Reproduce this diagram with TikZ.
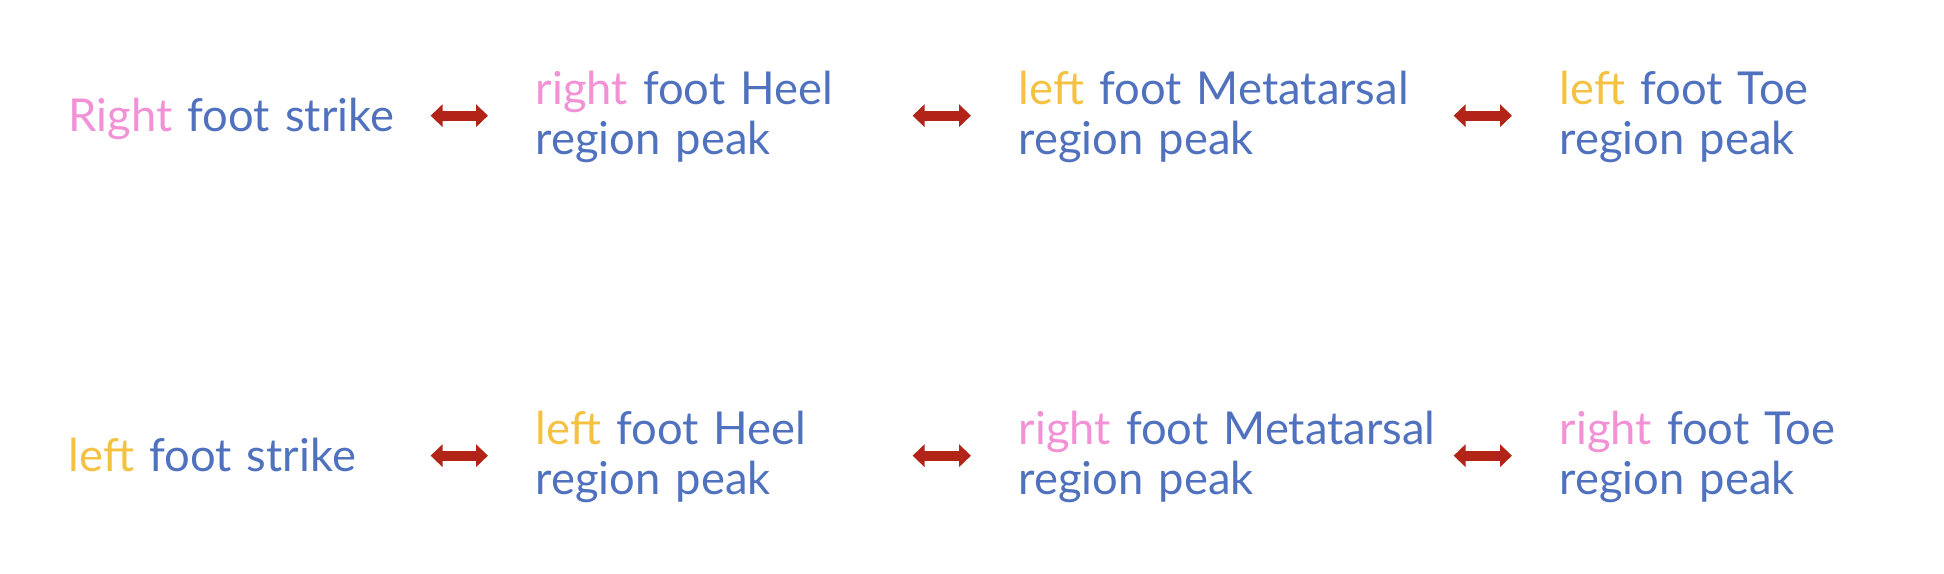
\documentclass[tikz,border=0pt]{standalone}
\usepackage{fontspec}
\setmainfont{Lato}
\usepackage{tikz}
\usetikzlibrary{arrows.meta, positioning}

\definecolor{labelblue}{HTML}{4F71BE}
\definecolor{rightpink}{HTML}{F291D6}
\definecolor{leftyellow}{HTML}{F5C143}
\definecolor{arrowred}{HTML}{B22418}

\newcommand{\rgt}[1]{{\color{rightpink}#1}}
\newcommand{\lft}[1]{{\color{leftyellow}#1}}

\begin{document}
\begin{tikzpicture}[x=0.01cm, y=-0.01cm,
    phase/.style={anchor=west, align=left, inner sep=0pt, text=labelblue,
      font=\fontsize{12.9}{14}\selectfont, text height=10pt},
    strike/.style={phase, text width=3.61cm, text depth=0.9pt},
    peak/.style={phase, text width=#1, text depth=16.1pt},
    link/.style={draw=arrowred, line width=2.85pt, shorten >=0.47cm,
      {Triangle[length=3.4pt,width=6.3pt]}-{Triangle[length=3.4pt,width=6.3pt]}}]
    \useasboundingbox (0,0) rectangle (1944,574);

    % top row: right foot strike
    \node[strike] (rs) at (68,115.7) {\rgt{Right} foot strike};
    \node[peak=3.76cm] (rh) at (535,115.7) {\rgt{right} foot Heel\\region peak};
    \node[peak=4.34cm] (lm) at (1018,115.7) {\lft{left} foot Metatarsal\\region peak};
    \node[peak=3.4cm] (lt) at (1559,115.7) {\lft{left} foot Toe\\region peak};

    % bottom row: left foot strike
    \node[strike] (ls) at (68,455.7) {\lft{left} foot strike};
    \node[peak=3.76cm] (lh) at (535,455.7) {\lft{left} foot Heel\\region peak};
    \node[peak=4.34cm] (rm) at (1018,455.7) {\rgt{right}~foot~Metatarsal\\region peak};
    \node[peak=3.4cm] (rt) at (1559,455.7) {\rgt{right} foot Toe\\region peak};

    % double arrows
    \draw[link] (rs) -- (rh);
    \draw[link] (rh) -- (lm);
    \draw[link] (lm) -- (lt);
    \draw[link] (ls) -- (lh);
    \draw[link] (lh) -- (rm);
    \draw[link] (rm) -- (rt);
\end{tikzpicture}
\end{document}
